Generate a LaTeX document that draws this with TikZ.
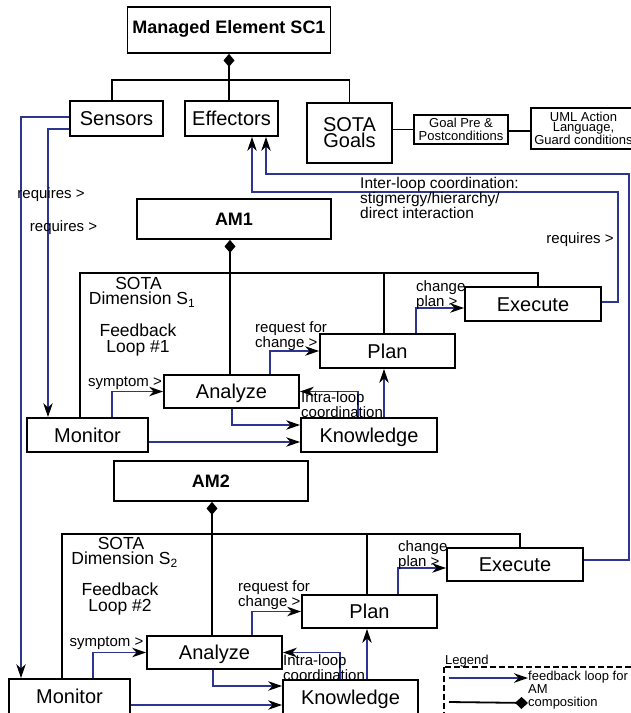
\documentclass[tikz,border=0pt]{standalone}
\usepackage{fontspec}
\setmainfont{Liberation Sans}
\usetikzlibrary{arrows.meta}
\definecolor{loopblue}{RGB}{44,54,146}
\newcommand\fsbig{\fontsize{20}{16}\selectfont}
\newcommand\fstitle{\bfseries\fontsize{18}{18}\selectfont}
\newcommand\fslab{\fontsize{15}{12}\selectfont}
\newcommand\fsinter{\fontsize{15.5}{13.3}\selectfont}
\newcommand\fsdim{\fontsize{17.5}{15.5}\selectfont}
\newcommand\fsnote{\fontsize{13}{13}\selectfont}
\newcommand\fsuml{\fontsize{13}{10.5}\selectfont}
\newcommand\fsleg{\fontsize{13}{10}\selectfont}
\newcommand\dimsub[1]{\rlap{\raisebox{-2.5pt}{\fontsize{12}{12}\selectfont #1}}}
\tikzset{
  frame/.style={draw=black, line width=1.8pt, fill=white, inner sep=0pt},
  box/.style={frame, font=\fsbig, text height=14.4pt, text depth=0pt},
  titlebox/.style={frame, font=\fstitle, text height=12.9pt, text depth=0pt},
  link/.style={line width=1.8pt},
  comp/.style={line width=1.8pt, {Diamond[length=13pt,width=11pt]}-},
  flow/.style={draw=loopblue, line width=1.5pt,
    -{Stealth[length=14pt,width=9.5pt,inset=4.5pt,color=black]}},
  lbl/.style={font=\fslab, align=left, inner sep=0pt},
  dimlbl/.style={font=\fsdim, align=center, inner sep=0pt, anchor=north},
}
\begin{document}
\begin{tikzpicture}[x=1pt, y=-1pt]
\useasboundingbox (0,0) rectangle (631,713);
\clip (0,0) rectangle (631,713);

% managed element and its parts
\node[titlebox, minimum width=203pt, minimum height=46pt, text depth=6pt] (me) at (229,30) {Managed Element SC1};
\node[box, minimum width=93pt, minimum height=35pt] (sens) at (116.5,118.5) {Sensors};
\node[box, minimum width=93pt, minimum height=35pt] (eff) at (231.5,118.5) {Effectors};
\node[frame, font=\fsbig, align=center, minimum width=85pt, minimum height=60pt] (goals) at (349.5,133) {SOTA\\Goals};
\node[frame, font=\fsnote, align=center, minimum width=94pt, minimum height=29pt] (pre) at (461,129.5) {Goal Pre \&\\Postconditions};
\node[frame, font=\fsuml, align=center, minimum width=105pt, minimum height=41pt] (uml) at (583.5,128.5) {UML Action\\Language,\\Guard conditions};

% autonomic manager 1
\node[titlebox, minimum width=194pt, minimum height=40pt] (am1) at (234,219) {AM1};
\node[box, minimum width=135pt, minimum height=33pt] (ana1) at (231.5,391.5) {Analyze};
\node[box, minimum width=135pt, minimum height=34pt] (plan1) at (387.5,351) {Plan};
\node[box, minimum width=136pt, minimum height=34pt] (exe1) at (533,304) {Execute};
\node[box, minimum width=136pt, minimum height=34pt] (kn1) at (369,435) {Knowledge};
\node[box, minimum width=121pt, minimum height=34pt] (mon1) at (87.5,435) {Monitor};

% autonomic manager 2
\node[titlebox, minimum width=194pt, minimum height=40pt] (am2) at (211,481) {AM2};
\node[box, minimum width=135pt, minimum height=33pt] (ana2) at (214.5,652.5) {Analyze};
\node[box, minimum width=135pt, minimum height=33pt] (plan2) at (369.5,611.5) {Plan};
\node[box, minimum width=136pt, minimum height=33pt] (exe2) at (515,564.5) {Execute};
\node[box, minimum width=135pt, minimum height=34pt] (kn2) at (350.5,697) {Knowledge};
\node[box, minimum width=121pt, minimum height=35pt] (mon2) at (69.5,696.5) {Monitor};

% composition: managed element
\coordinate (tb) at (229,80);
\draw[comp] (me.south) -- ([xshift=-2.5pt]eff.north);
\draw[link] ([xshift=-4.5pt]sens.north) |- (tb) -| (goals.north);
\draw[link] (goals.east |- pre.west) -- (pre.west);
\draw[link] ([yshift=-1.5pt]pre.east) -- ([yshift=-1.5pt]pre.east -| uml.west);

% composition: AM1
\coordinate (b1) at (230,273);
\draw[comp] ([xshift=-4pt]am1.south) -- (b1);
\draw[link] ([xshift=-7.5pt]mon1.north) |- (b1) -| ([xshift=5pt]exe1.north);
\draw[link] (b1) -- ([xshift=-1.5pt]ana1.north);
\coordinate (p1t) at ([xshift=-3.5pt]plan1.north);
\draw[link] (p1t) -- (p1t |- b1);

% composition: AM2
\coordinate (b2) at (212,534);
\draw[comp] ([xshift=1pt]am2.south) -- (b2);
\draw[link] ([xshift=-7.5pt]mon2.north) |- (b2) -| ([xshift=5pt]exe2.north);
\draw[link] (b2) -- ([xshift=-2.5pt]ana2.north);
\coordinate (p2t) at ([xshift=-2.5pt]plan2.north);
\draw[link] (p2t) -- (p2t |- b2);

% feedback loop 1
\draw[flow] ([xshift=24.5pt]mon1.north) |- (ana1.west);
\draw[flow] ([xshift=38.5pt]ana1.north) |- (plan1.west);
\draw[flow] ([xshift=28.5pt]plan1.north) |- ([yshift=-4pt]exe1.west);
\draw[flow] ([xshift=0.5pt]ana1.south) |- ([yshift=10pt]kn1.west);
\coordinate (m1o) at ([yshift=-7pt]mon1.east);
\draw[flow] (m1o) -- (m1o -| kn1.west);
\draw[flow] ([xshift=-11pt]kn1.north) |- (ana1.east);
\draw[flow] ([xshift=15pt]kn1.north) -- ([xshift=-3.5pt]plan1.south);

% feedback loop 2
\draw[flow] ([xshift=23.5pt]mon2.north) |- (ana2.west);
\draw[flow] ([xshift=37.5pt]ana2.north) |- (plan2.west);
\draw[flow] ([xshift=28.5pt]plan2.north) |- ([yshift=-3.5pt]exe2.west);
\draw[flow] ([xshift=-1.5pt]ana2.south) |- ([yshift=11pt]kn2.west);
\coordinate (m2o) at ([yshift=-8.5pt]mon2.east);
\draw[flow] (m2o) -- (m2o -| kn2.west);
\draw[flow] ([xshift=-10.5pt]kn2.north) |- (ana2.east);
\draw[flow] ([xshift=16.5pt]kn2.north) -- ([xshift=-2.5pt]plan2.south);

% sensors feed the monitors
\draw[flow] ([yshift=1.5pt]sens.west) -| ([xshift=-48.5pt]mon2.north);
\draw[flow] ([yshift=-10.5pt]sens.west) -| ([xshift=-39.5pt]mon1.north);

% executors act on the effectors
\coordinate (r1) at (618,192);
\coordinate (r2) at (629,174);
\draw[flow] ([yshift=2pt]exe1.east) -| (r1) -| ([xshift=20.5pt]eff.south);
\draw[flow] ([yshift=4.5pt]exe2.east) -| (r2) -| ([xshift=34.5pt]eff.south);

% labels
\node[lbl] (rq1) at (51,195) {requires >};
\node[lbl] (rq2) at (63.5,228) {requires >};
\node[lbl] (rq3) at (580,239.5) {requires >};
\node[lbl, font=\fsinter, anchor=west] (inter) at (360,198) {Inter-loop coordination:\\stigmergy/hierarchy/\\direct interaction};

\node[lbl] (sy1) at (125,383) {symptom >};
\node[lbl, anchor=west] (rf1) at (255,336) {request for\\change >};
\node[lbl, anchor=west] (cp1) at (416,295) {change\\plan >};
\node[lbl, anchor=west] (il1) at (301,405) {Intra-loop\\coordination};
\node[dimlbl] (dim1) at (138.5,277) {SOTA\\Dimension S\dimsub{1}};
\node[dimlbl] (fb1) at (138,324) {Feedback\\Loop \#1};

\node[lbl] (sy2) at (106.5,643) {symptom >};
\node[lbl, anchor=west] (rf2) at (238,595) {request for\\change >};
\node[lbl, anchor=west] (cp2) at (398,555) {change\\plan >};
\node[lbl, anchor=west] (il2) at (283,668) {Intra-loop\\coordination};
\node[dimlbl] (dim2) at (121,537) {SOTA\\Dimension S\dimsub{2}};
\node[dimlbl] (fb2) at (120,583) {Feedback\\Loop \#2};

% legend
\node[font=\fsleg, inner sep=0pt, anchor=west] (lgt) at (445,661) {Legend};
\draw[line width=1.5pt, dash pattern=on 6pt off 3pt] (444,667) rectangle (640,722);
\node[font=\fsleg, align=left, inner sep=0pt, anchor=west] (lgf) at (528,682.5) {feedback loop for\\AM};
\node[font=\fsleg, inner sep=0pt, anchor=west] (lgc) at (528,703) {composition};
\coordinate (lga) at (449,678);
\coordinate (lgb) at (449,702);
\draw[flow] (lga) -- (lga -| lgf.west);
\draw[link, -{Diamond[length=13pt,width=12pt]}] (lgb) -- (lgc.west);
\end{tikzpicture}
\end{document}
